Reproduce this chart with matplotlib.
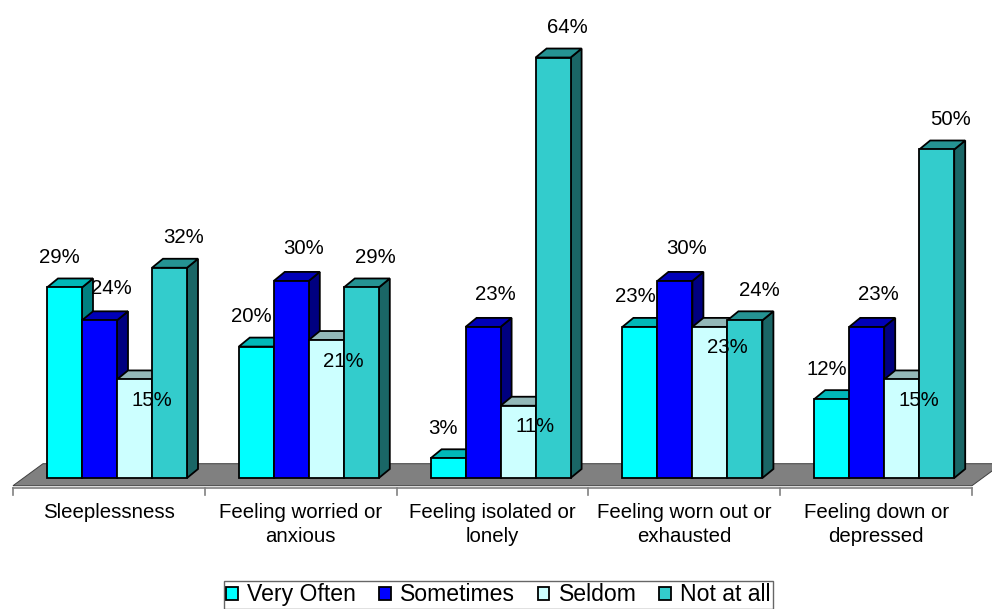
import matplotlib
matplotlib.use("Agg")
from matplotlib import pyplot as plt
from matplotlib.patches import Polygon, Patch
import numpy as np

plt.rcParams['font.family'] = ['Liberation Sans', 'DejaVu Sans']

# Data
categories = ["Sleeplessness", "Feeling worried or\nanxious", "Feeling isolated or\nlonely",
              "Feeling worn out or\nexhausted", "Feeling down or\ndepressed"]
series = ["Very Often", "Sometimes", "Seldom", "Not at all"]
very_often = [29, 20, 3, 23, 12]
sometimes = [24, 30, 23, 30, 23]
seldom = [15, 21, 11, 23, 15]
not_at_all = [32, 29, 64, 24, 50]
values = [very_often, sometimes, seldom, not_at_all]

colors = ["#00FFFF", "#0000FF", "#CCFFFF", "#33CCCC"]

def shade(c, f):
    r, g, b = matplotlib.colors.to_rgb(c)
    return (r * f, g * f, b * f)

# px -> data helpers (axes fills the whole figure)
W, H = 992, 609
cat_px = 191.8          # pixels per category
x0_px = 13              # left of first category
y0_px = 478             # baseline of the bars
pct_px = 6.57           # pixels per percent

fig = plt.figure(figsize=(W / 100, H / 100), dpi=100)
ax = fig.add_axes([0, 0, 1, 1])
ax.set_xlim(-x0_px / cat_px, (W - x0_px) / cat_px)
ax.set_ylim(-(H - y0_px) / pct_px, y0_px / pct_px)
ax.axis('off')

def px_x(p):
    return p / cat_px

def px_y(p):
    return p / pct_px

# floor slab
fdx, fdy = px_x(30), px_y(22)
f_front = px_y(-7.7)
floor = Polygon([(0, f_front), (5, f_front), (5 + fdx, f_front + fdy), (fdx, f_front + fdy)],
                closed=True, facecolor="#808080", edgecolor="#404040", lw=0.7, zorder=1)
ax.add_patch(floor)

# category axis with tick marks
ax_y = px_y(-10)
ax.plot([0, 5], [ax_y, ax_y], color="#808080", lw=1.2, zorder=2)
for k in range(6):
    ax.plot([k, k], [ax_y, ax_y - px_y(7)], color="#808080", lw=1.2, zorder=2)

# bars
bw = px_x(35)
gap = px_x(34)
ddx, ddy = px_x(11), px_y(9)
label_off = [(-5, 30), (12, 32), (17, -21), (14, 30)]

for i in range(len(categories)):
    for s in range(len(series)):
        v = values[s][i]
        x = i + gap + s * bw
        c = colors[s]
        z = 3 + s
        side = Polygon([(x + bw, 0), (x + bw + ddx, ddy), (x + bw + ddx, v + ddy), (x + bw, v)],
                       closed=True, facecolor=shade(c, 0.5), edgecolor="black", lw=1.3, zorder=z)
        top = Polygon([(x, v), (x + bw, v), (x + bw + ddx, v + ddy), (x + ddx, v + ddy)],
                      closed=True, facecolor=shade(c, 0.72), edgecolor="black", lw=1.3, zorder=z)
        front = Polygon([(x, 0), (x + bw, 0), (x + bw, v), (x, v)],
                        closed=True, facecolor=c, edgecolor="black", lw=1.3, zorder=z)
        for p in (side, top, front):
            ax.add_patch(p)
        ox, oy = label_off[s]
        ax.annotate(f"{v}%", (x + bw / 2, v), xytext=(ox, oy), textcoords="offset pixels",
                    ha="center", va="center", fontsize=14.7, color="black", zorder=10)

# category labels
for i, name in enumerate(categories):
    ax.text(i + 0.5, px_y(-25), name, ha="center", va="top", fontsize=14.7,
            linespacing=1.35, color="black")

handles = [Patch(facecolor=c, edgecolor="black", lw=1.3) for c in colors]
leg = ax.legend(handles, series, loc="upper center", bbox_to_anchor=(498.5 / W, 1 - 581 / H),
                bbox_transform=fig.transFigure, ncol=4, fontsize=16.6, frameon=True,
                fancybox=False, handlelength=0.5, handleheight=0.5, handletextpad=0.4,
                columnspacing=1.0, borderpad=0.1, borderaxespad=0)
leg.get_frame().set_edgecolor("#404040")
leg.get_frame().set_linewidth(1.0)

plt.savefig("out.png", dpi=100)
